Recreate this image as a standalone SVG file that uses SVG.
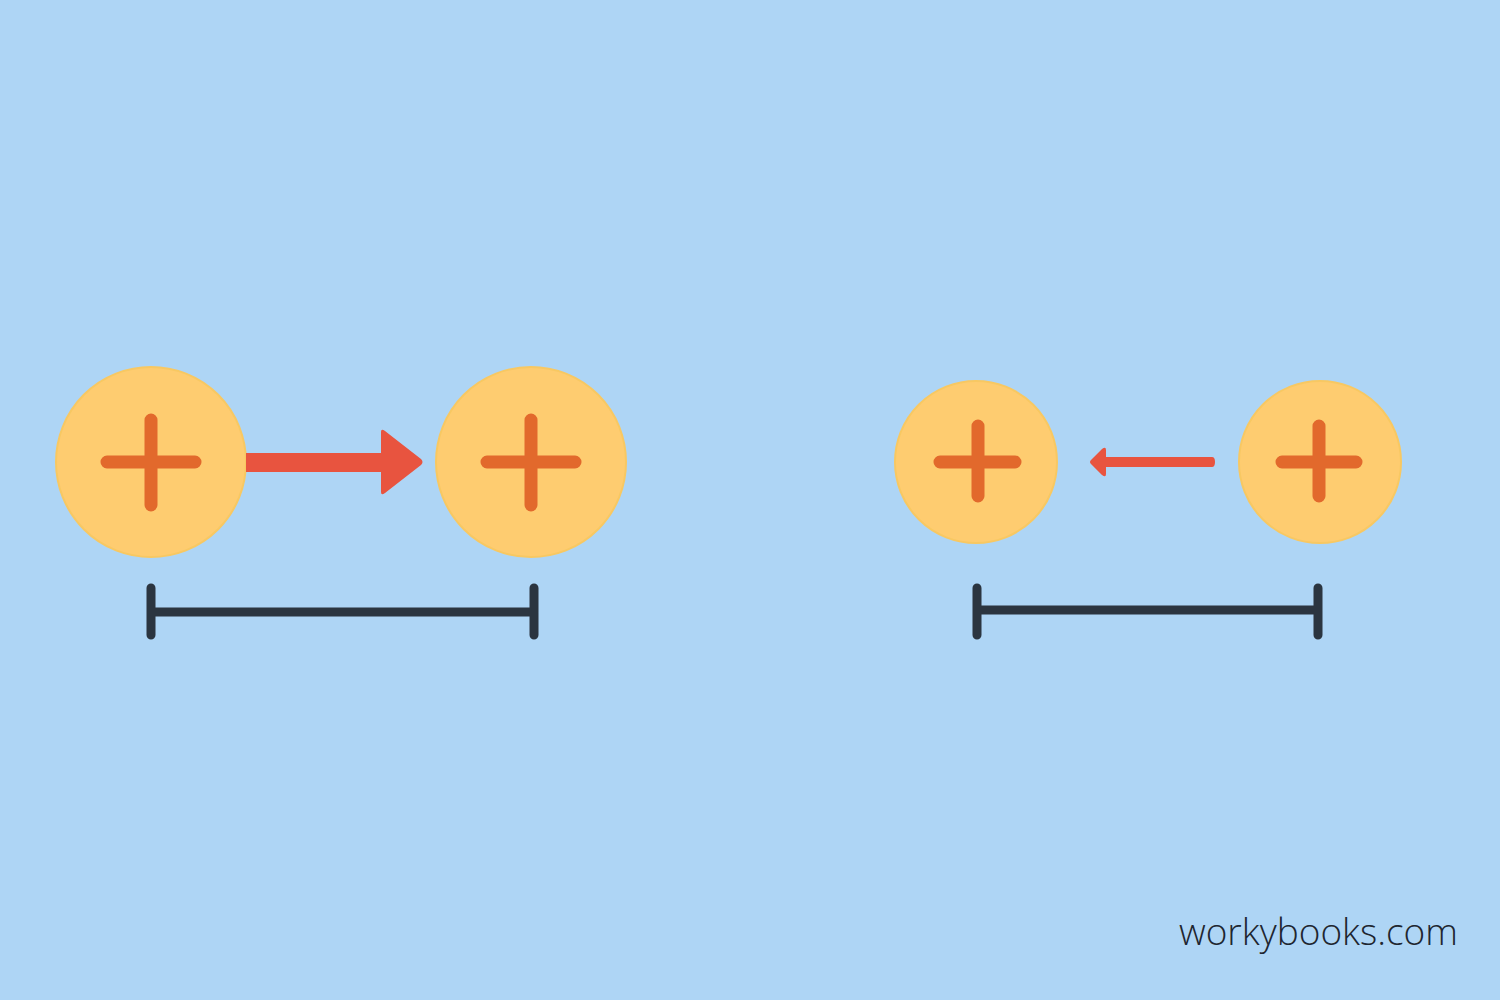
<svg xmlns="http://www.w3.org/2000/svg" width="1500" height="1000" viewBox="0 0 1500 1000">
<style>
.coin{fill:#FECC70;stroke:#F8C862;stroke-width:2}
.plus{stroke:#E2692C;stroke-width:13;stroke-linecap:round;fill:none}
.bar{stroke:#2B3540;stroke-width:9;stroke-linecap:round;fill:none}
.arrow{fill:#E8543F}
.label{font-family:"Open Sans","Noto Sans",sans-serif;font-weight:300;font-size:37px;fill:#1E2630}
</style>
<rect x="0" y="0" width="1500" height="1000" fill="#AED5F5"/>
<g id="coin1">
<circle class="coin" cx="151" cy="462" r="95"/>
<path class="plus" d="M107 462H195M151 420V505"/>
</g>
<g id="coin2">
<circle class="coin" cx="531" cy="462" r="95"/>
<path class="plus" d="M487 462H575M531 420V505"/>
</g>
<g id="coin3">
<circle class="coin" cx="976" cy="462" r="81"/>
<path class="plus" d="M940 462H1015M978 426V496"/>
</g>
<g id="coin4">
<circle class="coin" cx="1320" cy="462" r="81"/>
<path class="plus" d="M1282 462H1356M1319 426V496"/>
</g>
<g id="connectors">
<path class="arrow" d="M246 453H381V432Q381 428 385 431L421 459Q424 462 421 465L385 493Q381 496 381 492V472H246Z"/>
<path class="arrow" d="M1212 457Q1215 457 1215 462Q1215 467 1212 467H1106V474Q1106 478 1102 475L1091 464Q1089 462 1091 460L1102 449Q1106 446 1106 450V457Z"/>
<path class="bar" d="M151 588V635M151 612H534M534 588V635"/>
<path class="bar" d="M977 588V635M977 610H1318M1318 588V635"/>
</g>
<text class="label" x="1458" y="945" text-anchor="end">workybooks.com</text>
</svg>
